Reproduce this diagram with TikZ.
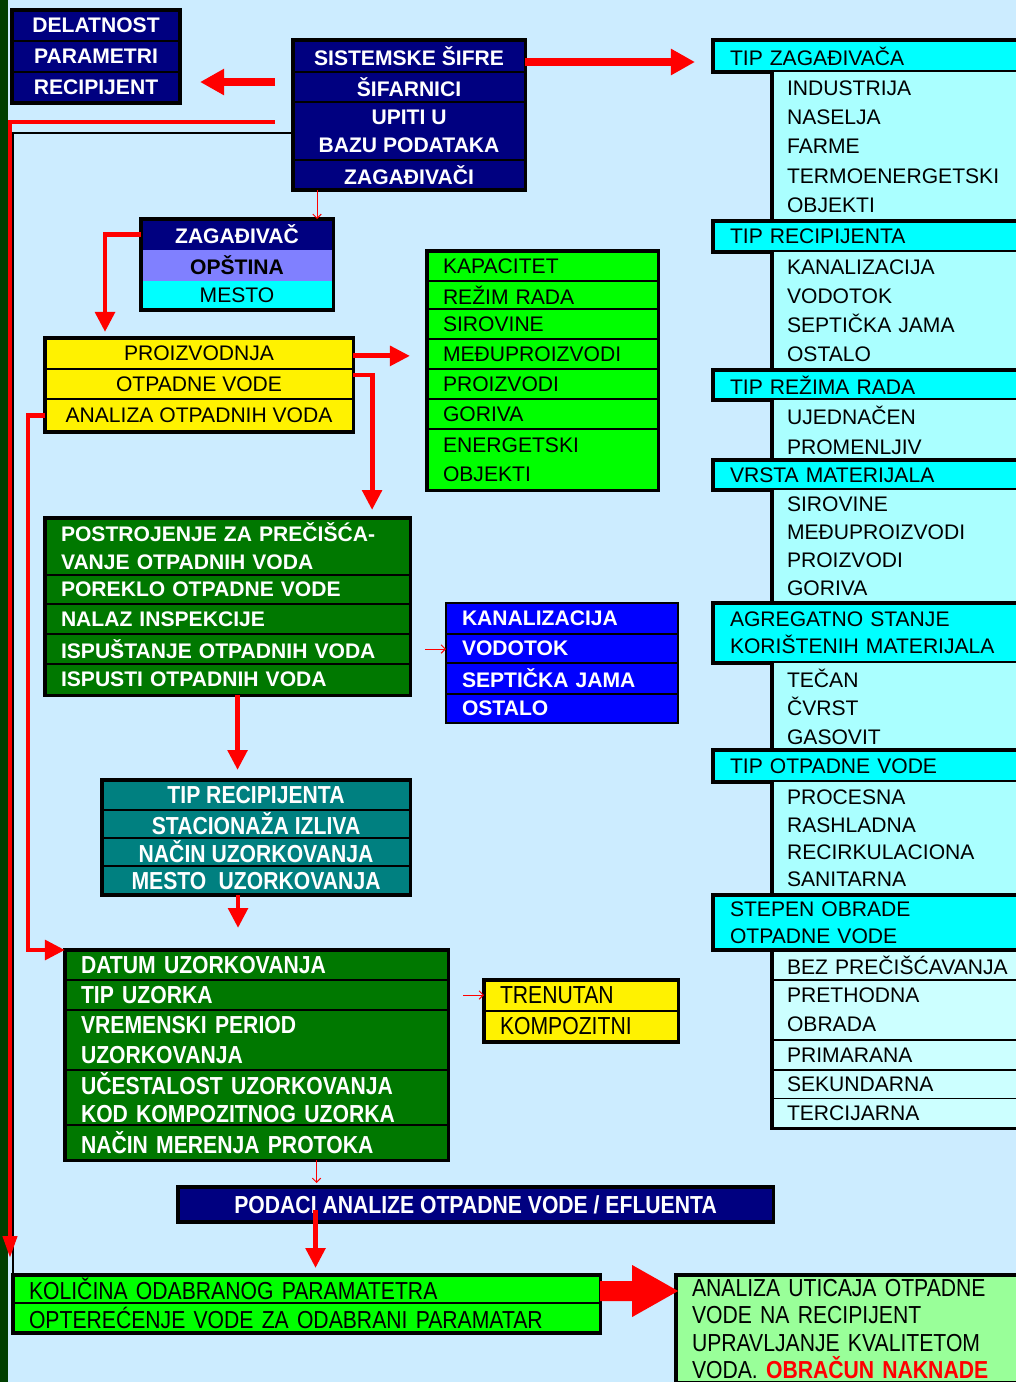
\documentclass[tikz,border=0pt]{standalone}
\usepackage{fontspec}
\setmainfont{Liberation Sans}
\newfontfamily\narrowfont{Liberation Sans}[FakeStretch=0.86]
\usepackage{tikz}
\usetikzlibrary{arrows.meta,positioning}
\definecolor{bgblue}{HTML}{CCECFF}
\definecolor{navyb}{HTML}{000080}
\definecolor{dkgreen}{HTML}{007800}
\definecolor{stripg}{HTML}{003F00}
\definecolor{tealc}{HTML}{008080}
\definecolor{limeg}{HTML}{00FF00}
\definecolor{lavender}{HTML}{8080FF}
\definecolor{hdcyan}{HTML}{00FFFF}
\definecolor{itcyan}{HTML}{AAFFFF}
\definecolor{ltcyan}{HTML}{CCFFFF}
\definecolor{ltgreen}{HTML}{99FF99}
\newcommand{\fsn}{\fontsize{15}{20}\selectfont}
\newcommand{\fsc}{\narrowfont\fontsize{17.5}{20}\selectfont}

\begin{document}
\begin{tikzpicture}[x=0.025cm, y=-0.025cm,
  cell/.style={draw=black, line width=1.2pt, anchor=north west, inner sep=0pt, outer sep=0pt, font=\fsn},
  ccell/.style={cell, align=center},
  lcell/.style={cell, align=left, inner xsep=0.4cm},
  navyrow/.style={ccell, fill=navyb, text=white, font=\fsn\bfseries},
  yelrow/.style={ccell, fill=yellow, minimum width=7.7cm},
  limerow/.style={lcell, fill=limeg, text width=4.975cm},
  dkrow/.style={lcell, fill=dkgreen, text=white, font=\fsn\bfseries, text width=8.325cm},
  bluerow/.style={lcell, fill=blue, text=white, font=\fsn\bfseries, text width=5cm},
  tealrow/.style={ccell, fill=tealc, text=white, font=\fsc\bfseries, minimum width=7.7cm},
  datrow/.style={lcell, fill=dkgreen, text=white, font=\fsc\bfseries, text width=8.775cm},
  hdr/.style={cell, line width=2.2pt, fill=hdcyan, align=left, inner xsep=0.425cm, text width=7.15cm},
  panel/.style={anchor=north west, inner sep=0pt, inner xsep=0.375cm, outer sep=0pt, fill=itcyan, align=left, text width=5.775cm},
  srow/.style={cell, line width=0.8pt, fill=ltcyan, align=left, inner xsep=0.375cm, text width=5.775cm},
  boxframe/.style={draw=black, line width=2.2pt},
  leftrule/.style={draw=black, line width=2.4pt},
  bigarr/.style={red, line width=5pt, -{Triangle[length=0.6cm, width=0.62cm]}},
  midarr/.style={red, line width=3.5pt, -{Triangle[length=0.5cm, width=0.48cm]}},
  thinarr/.style={red, line width=0.7pt, -{Straight Barb[length=3pt, width=6pt]}}
]
\useasboundingbox (0,0) rectangle (1016,1382);
\fill[bgblue] (0,0) rectangle (1016,1382);
\clip (0,0) rectangle (1016,1382);
\fill[stripg] (0,0) rectangle (8,1382);

% Sifarnici
\node[navyrow, minimum width=4.2cm, minimum height=0.775cm] (del1) at (12,10) {DELATNOST};
\node[navyrow, minimum width=4.2cm, minimum height=0.775cm, below=0pt of del1] (del2) {PARAMETRI};
\node[navyrow, minimum width=4.2cm, minimum height=0.775cm, below=0pt of del2] (del3) {RECIPIJENT};
\draw[boxframe] (del1.north west) rectangle (del3.south east);

\node[navyrow, minimum width=5.8cm, minimum height=0.8cm] (sif1) at (293,40) {SISTEMSKE ŠIFRE};
\node[navyrow, minimum width=5.8cm, minimum height=0.75cm, below=0pt of sif1] (sif2) {ŠIFARNICI};
\node[navyrow, minimum width=5.8cm, minimum height=1.45cm, below=0pt of sif2] (sif3) {UPITI U\\BAZU PODATAKA};
\node[navyrow, minimum width=5.8cm, minimum height=0.75cm, below=0pt of sif3] (sif4) {ZAGAĐIVAČI};
\draw[boxframe] (sif1.north west) rectangle (sif4.south east);

% Zagadjivac
\node[navyrow, draw=none, minimum width=4.8cm, minimum height=0.775cm] (zag1) at (141,219) {ZAGAĐIVAČ};
\node[ccell, draw=none, fill=lavender, font=\fsn\bfseries, minimum width=4.8cm, minimum height=0.775cm, below=0pt of zag1] (zag2) {OPŠTINA};
\node[ccell, draw=none, fill=hdcyan, minimum width=4.8cm, minimum height=0.725cm, below=0pt of zag2] (zag3) {MESTO};
\draw[boxframe] (zag1.north west) rectangle (zag3.south east);

\node[yelrow, minimum height=0.775cm] (pr1) at (45,338) {PROIZVODNJA};
\node[yelrow, minimum height=0.75cm, below=0pt of pr1] (pr2) {OTPADNE VODE};
\node[yelrow, minimum height=0.825cm, below=0pt of pr2] (pr3) {ANALIZA OTPADNIH VODA};
\draw[boxframe] (pr1.north west) rectangle (pr3.south east);

% Proizvodnja
\node[limerow, minimum height=0.75cm] (kap1) at (427,251) {KAPACITET};
\node[limerow, minimum height=0.7cm, below=0pt of kap1] (kap2) {REŽIM RADA};
\node[limerow, minimum height=0.75cm, below=0pt of kap2] (kap3) {SIROVINE};
\node[limerow, minimum height=0.75cm, below=0pt of kap3] (kap4) {MEĐUPROIZVODI};
\node[limerow, minimum height=0.75cm, below=0pt of kap4] (kap5) {PROIZVODI};
\node[limerow, minimum height=0.75cm, below=0pt of kap5] (kap6) {GORIVA};
\node[limerow, minimum height=1.525cm, font=\fontsize{15}{21}\selectfont, below=0pt of kap6] (kap7) {ENERGETSKI\\OBJEKTI};
\draw[boxframe] (kap1.north west) rectangle (kap7.south east);

% Otpadne vode
\node[dkrow, minimum height=1.425cm] (po1) at (45,518) {POSTROJENJE ZA PREČIŠĆA-\\VANJE OTPADNIH VODA};
\node[dkrow, minimum height=0.725cm, below=0pt of po1] (po2) {POREKLO OTPADNE VODE};
\node[dkrow, minimum height=0.75cm, below=0pt of po2] (po3) {NALAZ INSPEKCIJE};
\node[dkrow, minimum height=0.75cm, below=0pt of po3] (po4) {ISPUŠTANJE OTPADNIH VODA};
\node[dkrow, minimum height=0.775cm, below=0pt of po4] (po5) {ISPUSTI OTPADNIH VODA};
\draw[boxframe] (po1.north west) rectangle (po5.south east);

\node[bluerow, minimum height=0.775cm] (ka1) at (446,603) {KANALIZACIJA};
\node[bluerow, minimum height=0.725cm, below=0pt of ka1] (ka2) {VODOTOK};
\node[bluerow, minimum height=0.775cm, below=0pt of ka2] (ka3) {SEPTIČKA JAMA};
\node[bluerow, minimum height=0.725cm, below=0pt of ka3] (ka4) {OSTALO};
\draw[black, line width=1.2pt] (ka1.north west) rectangle (ka4.south east);

\node[tealrow, minimum height=0.75cm] (tr1) at (102,780) {TIP RECIPIJENTA};
\node[tealrow, minimum height=0.7cm, below=0pt of tr1] (tr2) {STACIONAŽA IZLIVA};
\node[tealrow, minimum height=0.7cm, below=0pt of tr2] (tr3) {NAČIN UZORKOVANJA};
\node[tealrow, minimum height=0.725cm, below=0pt of tr3] (tr4) {MESTO\enspace UZORKOVANJA};
\draw[boxframe] (tr1.north west) rectangle (tr4.south east);

% Uzorkovanje
\node[datrow, minimum height=0.75cm] (da1) at (65,950) {DATUM UZORKOVANJA};
\node[datrow, minimum height=0.75cm, below=0pt of da1] (da2) {TIP UZORKA};
\node[datrow, minimum height=1.5cm, font={\narrowfont\fontsize{17.5}{21.5}\selectfont\bfseries}, below=0pt of da2] (da3) {VREMENSKI PERIOD\\UZORKOVANJA};
\node[datrow, minimum height=1.375cm, below=0pt of da3] (da4) {UČESTALOST UZORKOVANJA\\KOD KOMPOZITNOG UZORKA};
\node[datrow, minimum height=0.875cm, below=0pt of da4] (da5) {NAČIN MERENJA PROTOKA};
\draw[boxframe] (da1.north west) rectangle (da5.south east);

\node[lcell, fill=yellow, font=\fsc, text width=4.05cm, minimum height=0.775cm] (tn1) at (484,980) {TRENUTAN};
\node[lcell, fill=yellow, font=\fsc, text width=4.05cm, minimum height=0.775cm, below=0pt of tn1] (tn2) {KOMPOZITNI};
\draw[boxframe] (tn1.north west) rectangle (tn2.south east);

\node[navyrow, font=\fsc\bfseries, minimum width=14.875cm, minimum height=0.875cm] (pod) at (178,1187) {PODACI ANALIZE OTPADNE VODE / EFLUENTA};
\draw[boxframe] (pod.north west) rectangle (pod.south east);

\node[lcell, fill=limeg, font=\fsc, text width=13.875cm, minimum height=0.7cm] (ko1) at (13,1275) {KOLIČINA ODABRANOG PARAMATETRA};
\node[lcell, fill=limeg, font=\fsc, text width=13.875cm, minimum height=0.75cm, below=0pt of ko1] (ko2) {OPTEREĆENJE VODE ZA ODABRANI PARAMATAR};
\draw[boxframe] (ko1.north west) rectangle (ko2.south east);

\node[lcell, line width=2.2pt, fill=ltgreen, font={\narrowfont\fontsize{17.5}{19.6}\selectfont}, text width=8.125cm, minimum height=2.7cm] (an) at (676,1275)
  {ANALIZA UTICAJA OTPADNE\\VODE NA RECIPIJENT\\UPRAVLJANJE KVALITETOM\\VODA. \textcolor{red}{\bfseries OBRAČUN NAKNADE}};

% Desna kolona - sifarnici
\node[hdr, minimum height=0.8cm] (hz) at (713,40) {TIP ZAGAĐIVAČA};
\node[panel, minimum height=3.725cm, font=\fontsize{15}{20.8}\selectfont] (iz) at ([xshift=1.475cm]hz.south west) {INDUSTRIJA\\NASELJA\\FARME\\TERMOENERGETSKI\\OBJEKTI};
\draw[leftrule] (iz.north west) -- (iz.south west);

\node[hdr, minimum height=0.775cm] (hr) at (713,221) {TIP RECIPIJENTA};
\node[panel, minimum height=2.95cm, font=\fontsize{15}{20.6}\selectfont] (ir) at ([xshift=1.475cm]hr.south west) {KANALIZACIJA\\VODOTOK\\SEPTIČKA JAMA\\OSTALO};
\draw[leftrule] (ir.north west) -- (ir.south west);

\node[hdr, minimum height=0.75cm] (hm) at (713,370) {TIP REŽIMA RADA};
\node[panel, minimum height=1.5cm, font=\fontsize{15}{21.3}\selectfont] (im) at ([xshift=1.475cm]hm.south west) {UJEDNAČEN\\PROMENLJIV};
\draw[leftrule] (im.north west) -- (im.south west);

\node[hdr, minimum height=0.75cm] (hv) at (713,460) {VRSTA MATERIJALA};
\node[panel, minimum height=2.825cm, font=\fontsize{15}{19.9}\selectfont] (iv) at ([xshift=1.475cm]hv.south west) {SIROVINE\\MEĐUPROIZVODI\\PROIZVODI\\GORIVA};
\draw[leftrule] (iv.north west) -- (iv.south west);

\node[hdr, minimum height=1.5cm, font=\fontsize{15}{19.2}\selectfont] (ha) at (713,603) {AGREGATNO STANJE\\KORIŠTENIH MATERIJALA};
\node[panel, minimum height=2.175cm, font=\fontsize{15}{20.2}\selectfont] (ia) at ([xshift=1.475cm]ha.south west) {TEČAN\\ČVRST\\GASOVIT};
\draw[leftrule] (ia.north west) -- (ia.south west);

\node[hdr, minimum height=0.8cm] (ho) at (713,750) {TIP OTPADNE VODE};
\node[panel, minimum height=2.825cm, font=\fontsize{15}{19.5}\selectfont] (io) at ([xshift=1.475cm]ho.south west) {PROCESNA\\RASHLADNA\\RECIRKULACIONA\\SANITARNA};
\draw[leftrule] (io.north west) -- (io.south west);

\node[hdr, minimum height=1.375cm, font=\fontsize{15}{19.2}\selectfont] (hs) at (713,895) {STEPEN OBRADE\\OTPADNE VODE};
\node[srow, minimum height=0.75cm] (is1) at ([xshift=1.475cm]hs.south west) {BEZ PREČIŠĆAVANJA};
\node[srow, minimum height=1.5cm, font=\fontsize{15}{20.6}\selectfont, below=0pt of is1] (is2) {PRETHODNA\\OBRADA};
\node[srow, minimum height=0.75cm, below=0pt of is2] (is3) {PRIMARANA};
\node[srow, minimum height=0.7cm, below=0pt of is3] (is4) {SEKUNDARNA};
\node[srow, minimum height=0.75cm, below=0pt of is4] (is5) {TERCIJARNA};
\draw[boxframe] (is1.north west) rectangle (is5.south east);

% Veze
\draw[line width=0.8pt] ([yshift=-0.05cm]sif3.west) -| (ko1.north west);
\draw[red, line width=2.9pt, -{Triangle[length=0.55cm, width=0.35cm]}, shorten <=0.45cm, shorten >=0.425cm]
  ([yshift=0.225cm]sif3.west) -| ([xshift=-0.075cm]ko1.north west);
\draw[bigarr, shorten <=0.45cm, shorten >=0.5cm] ([yshift=0.125cm]sif2.west) -- ([yshift=0.125cm]sif2.west -| del3.east);
\draw[bigarr, shorten >=0.45cm] ([yshift=-0.15cm]sif1.east) -- ([yshift=-0.15cm]sif1.east -| hz.west);
\draw[thinarr] ([xshift=-2.3cm]sif4.south) -- ([xshift=-2.3cm]sif4.south |- zag1.north);
\draw[midarr, shorten >=0.15cm] (zag1.west) -| ([xshift=1.5cm]pr1.north west);
\draw[midarr, shorten >=0.425cm] ([yshift=-0.06cm]pr1.east) -- ([yshift=-0.06cm]pr1.east -| kap4.west);
\draw[midarr, shorten >=0.2cm] ([yshift=0.225cm]pr2.east) -| ([xshift=-0.95cm]po1.north east);
\draw[midarr] (pr3.west) -- ++(-17,0) |- (da1.north west);
\draw[thinarr, shorten <=0.375cm] (po4.east) -- (po4.east -| ka2.west);
\draw[midarr, shorten >=0.25cm] ([xshift=0.25cm]po5.south) -- ([xshift=0.25cm]po5.south |- tr1.north);
\draw[midarr, shorten >=0.55cm] ([xshift=-0.45cm]tr4.south) -- ([xshift=-0.45cm]tr4.south |- da1.north);
\draw[thinarr, shorten <=0.375cm] (da2.east) -- (da2.east -| tn1.west);
\draw[thinarr, shorten >=0.1cm] ([xshift=1.5cm]da5.south) -- ([xshift=1.5cm]da5.south |- pod.north);
\draw[midarr, shorten >=0.175cm] ([xshift=-4cm,yshift=-0.14cm]pod.center) -- ([xshift=-4cm]pod.center |- ko1.north);
\fill[red] ([yshift=0.2cm]ko1.east) -- ++(32,0) -- ++(0,-16) -- ++(46,26) -- ++(-46,26) -- ++(0,-16) -- ++(-32,0) -- cycle;

\end{tikzpicture}
\end{document}
